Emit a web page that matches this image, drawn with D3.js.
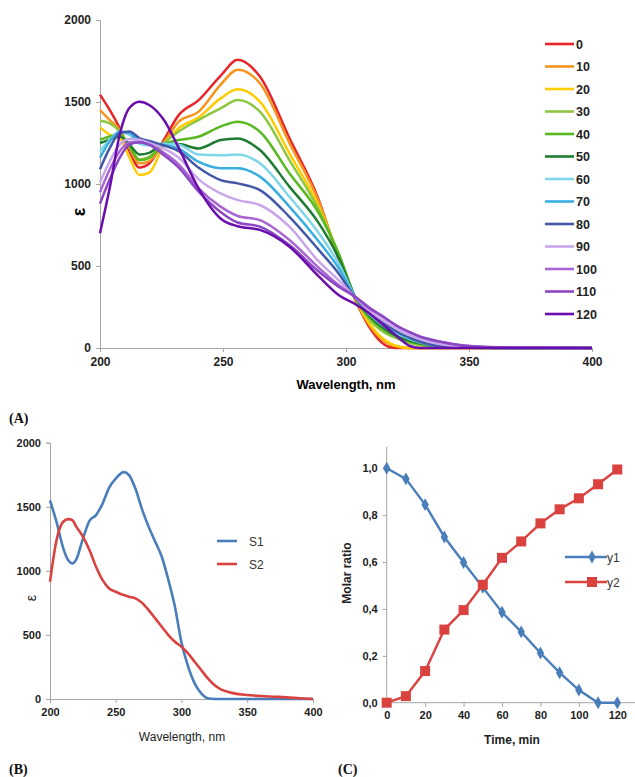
<!DOCTYPE html>
<html>
<head>
<meta charset="utf-8">
<script src="https://cdn.jsdelivr.net/npm/d3@7"></script>
<style>
  body { margin: 0; background: #fff; }
  svg { display: block; font-family: "Liberation Sans", Arial, sans-serif; }
  .ax path, .ax line { stroke: #a6a6a6; }
  .ax text { fill: #222; font-weight: bold; }
</style>
</head>
<body>
<div id="chart"></div>
<script>
// ---- data ----
const times = [0, 10, 20, 30, 40, 50, 60, 70, 80, 90, 100, 110, 120];
const wl = [200, 204, 208, 212, 216, 220, 226, 232, 240, 249, 256, 265, 277, 289, 297, 304, 310, 314, 318, 322, 326, 330, 338, 350, 365, 400];

const eps0   = [1545,1450,1340,1200,1100,1125,1270,1420,1510,1660,1758,1655,1280,900,540,285,115,40,5,0,0,0,0,0,0,0];
const eps10  = [1450,1390,1330,1220,1125,1140,1255,1380,1440,1605,1697,1614,1250,890,557,290,130,60,20,5,0,0,0,0,0,0];
const eps20  = [1345,1300,1280,1160,1055,1070,1240,1340,1405,1522,1577,1502,1187,860,565,295,140,70,28,8,0,0,0,0,0,0];
const eps30  = [1385,1370,1320,1230,1150,1165,1250,1320,1390,1461,1512,1441,1146,841,577,300,165,110,75,50,30,18,5,2,1,0];
const eps40  = [1270,1290,1300,1230,1145,1160,1240,1268,1288,1350,1380,1319,1065,821,575,300,180,125,88,60,40,25,8,3,2,2];
const eps50  = [1250,1270,1290,1240,1180,1190,1245,1244,1217,1268,1278,1207,984,760,550,305,190,135,95,65,45,28,8,2,0,0];
const eps60  = [1200,1270,1315,1300,1245,1235,1245,1240,1180,1175,1180,1126,922,699,516,305,200,150,110,80,55,35,10,2,0,0];
const eps70  = [1160,1260,1320,1310,1260,1245,1238,1215,1136,1096,1096,1045,862,648,488,305,205,160,120,85,60,38,10,2,0,0];
const eps80  = [1090,1220,1310,1320,1280,1262,1235,1200,1100,1024,1004,963,800,597,455,300,210,165,125,90,62,40,12,3,0,0];
const eps90  = [1010,1140,1240,1275,1270,1250,1215,1160,1030,943,902,872,740,526,414,305,220,180,140,105,78,55,25,8,2,0];
const eps100 = [950,1090,1200,1255,1255,1240,1190,1120,975,862,805,780,659,488,384,310,235,200,160,122,95,69,39,12,3,0];
const eps110 = [880,1030,1160,1240,1255,1240,1175,1100,955,830,765,740,628,465,374,310,240,202,162,124,96,70,40,12,3,0];
const eps120 = [700,980,1300,1465,1502,1482,1390,1220,975,790,742,720,618,435,323,265,205,155,105,55,12,0,0,0,0,0];
const spectra = [eps0, eps10, eps20, eps30, eps40, eps50, eps60, eps70, eps80, eps90, eps100, eps110, eps120];
const specColors = ["#e8262a","#f7941d","#ffcc00","#8dc63f","#58b921","#1e7b32","#7fd6e8","#3aaee0","#4458a8","#c9a6ec","#a965d3","#8c47c4","#6a0dad"];

const wlB = [200,205,210,214,217,220,225,230,235,240,245,250,256,260,265,270,275,280,285,290,295,300,305,310,315,320,325,330,335,340,350,360,370,380,390,400];
const s1  = [1550,1380,1180,1080,1058,1090,1250,1390,1435,1525,1650,1720,1770,1748,1640,1480,1345,1228,1110,930,720,440,255,122,44,6,0,0,0,0,0,0,0,0,0,0];
const s2  = [915,1240,1383,1404,1395,1345,1267,1163,1032,928,863,837,811,798,785,750,694,629,564,499,447,408,356,291,226,161,109,75,57,44,31,23,18,13,6,0];
const seriesB = [{name: "S1", values: s1, color: "#4a7ebb"}, {name: "S2", values: s2, color: "#d9423e"}];

const timeC = [0, 10, 20, 30, 40, 50, 60, 70, 80, 90, 100, 110, 120];
const y1 = [1.0, 0.955, 0.845, 0.707, 0.598, 0.492, 0.386, 0.302, 0.212, 0.128, 0.054, 0.0, 0.0];
const y2 = [0.0, 0.028, 0.135, 0.312, 0.395, 0.503, 0.618, 0.688, 0.765, 0.825, 0.872, 0.932, 0.995];

const W = 635, H = 777;
const svg = d3.select("#chart").append("svg").attr("width", W).attr("height", H);
const intFmt = d3.format("d");

// ---------- panel A ----------
const xA = d3.scaleLinear().domain([200, 400]).range([100, 592]);
const yA = d3.scaleLinear().domain([0, 2000]).range([348, 20]);

svg.append("g").attr("class", "ax").attr("transform", "translate(0,348)")
  .call(d3.axisBottom(xA).tickValues([200, 250, 300, 350, 400]).tickFormat(intFmt).tickSize(4).tickPadding(5))
  .style("font-size", "12px");
svg.append("g").attr("class", "ax").attr("transform", "translate(100,0)")
  .call(d3.axisLeft(yA).tickValues([0, 500, 1000, 1500, 2000]).tickFormat(intFmt).tickSize(4).tickPadding(5))
  .style("font-size", "12px");

const lineA = d3.line().x((d, i) => xA(wl[i])).y(d => yA(d)).curve(d3.curveMonotoneX);
spectra.forEach((s, k) => {
  svg.append("path").attr("d", lineA(s)).attr("fill", "none")
    .attr("stroke", specColors[k]).attr("stroke-width", 2.5);
});

svg.append("text").attr("x", 346).attr("y", 389).attr("text-anchor", "middle")
  .style("font-size", "13px").style("font-weight", "bold").text("Wavelength, nm");
svg.append("text").attr("transform", "translate(85,212) rotate(-90)").attr("text-anchor", "middle")
  .style("font-size", "18px").style("font-weight", "bold").text("ε");

const legA = svg.append("g");
times.forEach((t, k) => {
  const y = 44 + k * 22.5;
  legA.append("line").attr("x1", 545).attr("x2", 574).attr("y1", y).attr("y2", y)
    .attr("stroke", specColors[k]).attr("stroke-width", 2.6);
  legA.append("text").attr("x", 576).attr("y", y + 4.5)
    .style("font-size", "12.5px").style("font-weight", "bold").attr("fill", "#222").text(t);
});

// ---------- panel B ----------
const xB = d3.scaleLinear().domain([200, 400]).range([50, 313]);
const yB = d3.scaleLinear().domain([0, 2000]).range([699, 442.7]);

svg.append("g").attr("class", "ax").attr("transform", "translate(0,699)")
  .call(d3.axisBottom(xB).tickValues([200, 250, 300, 350, 400]).tickFormat(intFmt).tickSize(4).tickPadding(5))
  .style("font-size", "11px");
svg.append("g").attr("class", "ax").attr("transform", "translate(50,0)")
  .call(d3.axisLeft(yB).tickValues([0, 500, 1000, 1500, 2000]).tickFormat(intFmt).tickSize(4).tickPadding(5))
  .style("font-size", "11px");

const lineB = d3.line().x((d, i) => xB(wlB[i])).y(d => yB(d)).curve(d3.curveMonotoneX);
seriesB.forEach(s => {
  svg.append("path").attr("d", lineB(s.values)).attr("fill", "none")
    .attr("stroke", s.color).attr("stroke-width", 2.6);
});
seriesB.forEach((s, k) => {
  const y = 541 + k * 23;
  svg.append("line").attr("x1", 217).attr("x2", 237).attr("y1", y).attr("y2", y)
    .attr("stroke", s.color).attr("stroke-width", 2.6);
  svg.append("text").attr("x", 249).attr("y", y + 4.5).style("font-size", "12px")
    .attr("fill", "#333").text(s.name);
});
svg.append("text").attr("x", 182).attr("y", 741).attr("text-anchor", "middle")
  .style("font-size", "12px").attr("fill", "#222").text("Wavelength, nm");
svg.append("text").attr("transform", "translate(36,598) rotate(-90)").attr("text-anchor", "middle")
  .style("font-size", "14px").attr("fill", "#222").text("ε");

// ---------- panel C ----------
const xC = d3.scaleLinear().domain([0, 120]).range([386.7, 617.3]);
const yC = d3.scaleLinear().domain([0, 1]).range([702.7, 468.3]);

const axCx = svg.append("g").attr("class", "ax").attr("transform", "translate(0,702.7)")
  .call(d3.axisBottom(xC).tickValues(d3.range(0, 121, 20)).tickSize(4).tickPadding(5))
  .style("font-size", "11px");
axCx.select(".domain").attr("d", "M386.7,0H635");
const axCy = svg.append("g").attr("class", "ax").attr("transform", "translate(386.7,0)")
  .call(d3.axisLeft(yC).tickValues([0, 0.2, 0.4, 0.6, 0.8, 1.0]).tickFormat(d => d3.format(".1f")(d).replace(".", ","))
    .tickSize(4).tickPadding(5))
  .style("font-size", "11px");
axCy.select(".domain").attr("d", "M0,446.7V702.7");

const lineC = d3.line().x((d, i) => xC(timeC[i])).y(d => yC(d));
const blue = "#4a7ebb", red = "#d9423e";
svg.append("path").attr("d", lineC(y1)).attr("fill", "none").attr("stroke", blue).attr("stroke-width", 2.4);
svg.append("path").attr("d", lineC(y2)).attr("fill", "none").attr("stroke", red).attr("stroke-width", 2.4);

const diamond = d3.symbol().type(d3.symbolDiamond).size(48);
svg.append("g").selectAll("path").data(y1).join("path")
  .attr("transform", (d, i) => `translate(${xC(timeC[i])},${yC(d)})`)
  .attr("d", diamond).attr("fill", blue);
svg.append("g").selectAll("rect").data(y2).join("rect")
  .attr("x", (d, i) => xC(timeC[i]) - 5).attr("y", d => yC(d) - 5)
  .attr("width", 10).attr("height", 10).attr("fill", red);

// legend C
svg.append("line").attr("x1", 565).attr("x2", 607).attr("y1", 557).attr("y2", 557).attr("stroke", blue).attr("stroke-width", 2.4);
svg.append("path").attr("transform", "translate(592,557)").attr("d", diamond).attr("fill", blue);
svg.append("text").attr("x", 607).attr("y", 561.5).style("font-size", "12px").attr("fill", "#333").text("y1");
svg.append("line").attr("x1", 565).attr("x2", 607).attr("y1", 582).attr("y2", 582).attr("stroke", red).attr("stroke-width", 2.4);
svg.append("rect").attr("x", 587).attr("y", 577).attr("width", 10).attr("height", 10).attr("fill", red);
svg.append("text").attr("x", 607).attr("y", 586.5).style("font-size", "12px").attr("fill", "#333").text("y2");

svg.append("text").attr("x", 512).attr("y", 744).attr("text-anchor", "middle")
  .style("font-size", "12px").style("font-weight", "bold").attr("fill", "#222").text("Time, min");
svg.append("text").attr("transform", "translate(351,573) rotate(-90)").attr("text-anchor", "middle")
  .style("font-size", "12px").style("font-weight", "bold").attr("fill", "#222").text("Molar ratio");

// panel letters
const letter = (x, y, s) => svg.append("text").attr("x", x).attr("y", y)
  .style("font-family", "'Liberation Serif', 'Times New Roman', serif")
  .style("font-size", "14px").style("font-weight", "bold").attr("fill", "#111").text(s);
letter(9, 423, "(A)");
letter(9, 774, "(B)");
letter(338, 774, "(C)");
</script>
</body>
</html>
